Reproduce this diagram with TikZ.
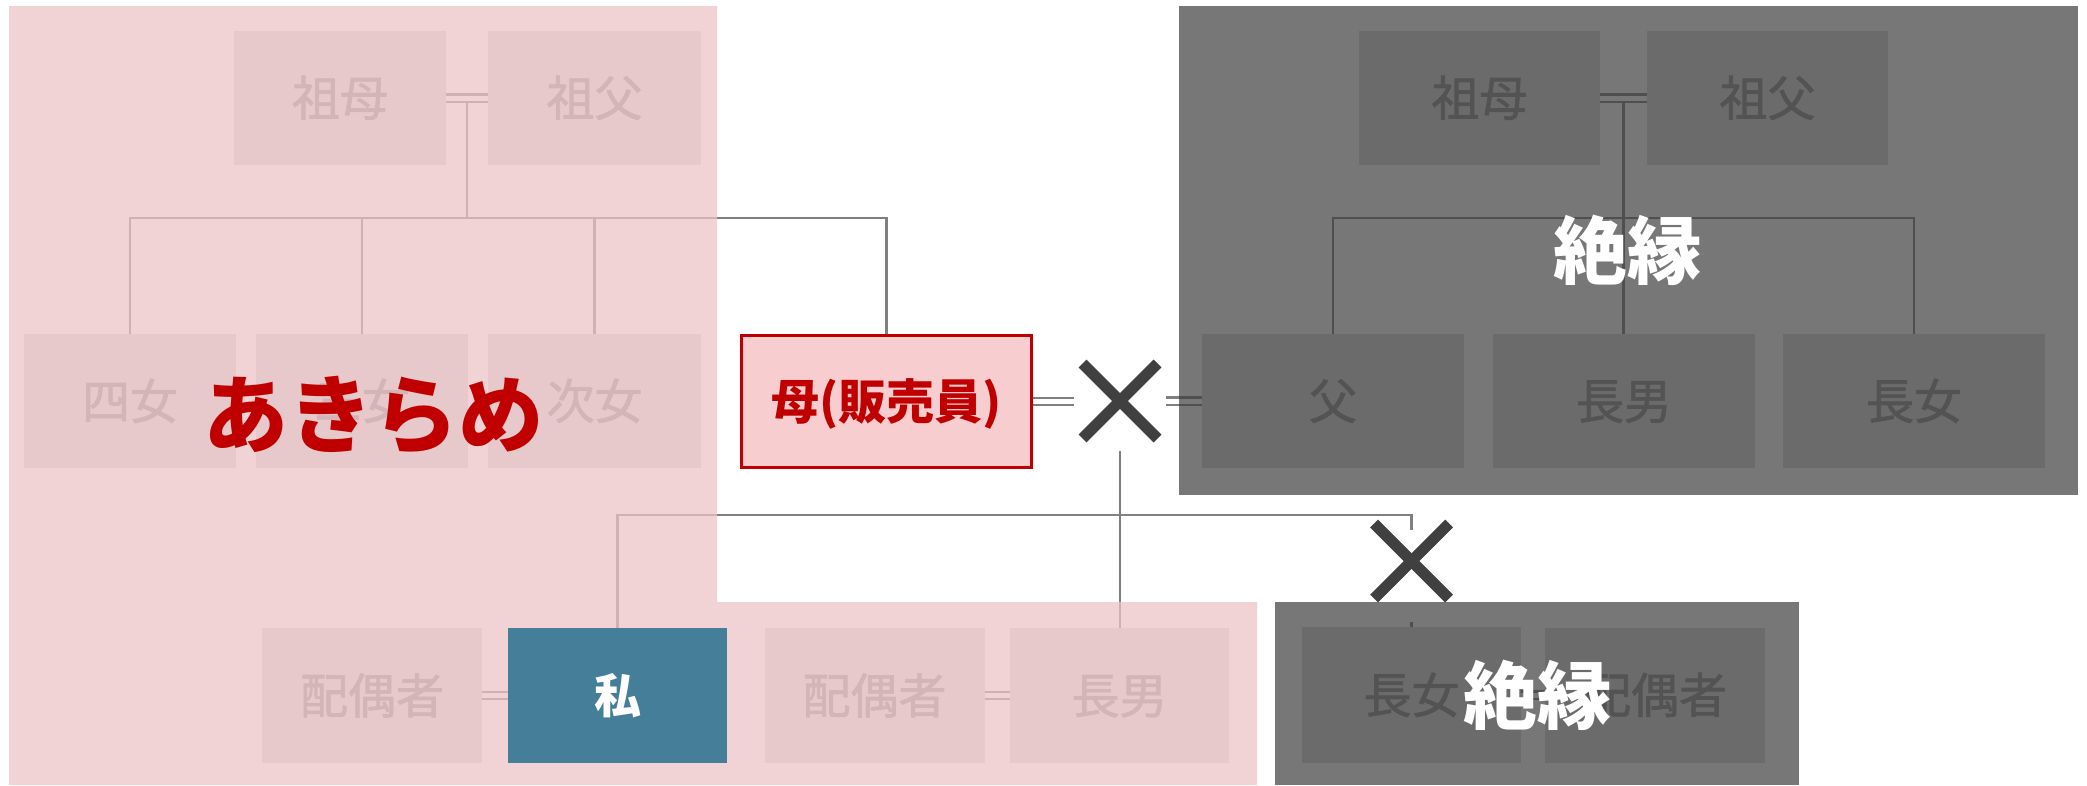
\documentclass[tikz,border=0pt]{standalone}
\usepackage{fontspec}
\newfontfamily\jp{Noto Sans CJK JP}
\newfontfamily\jpm{Noto Sans CJK JP}[FakeBold=1.5]
\definecolor{pinkov}{RGB}{237,195,199}
\definecolor{grayov}{RGB}{58,58,58}
\definecolor{boxbase}{RGB}{217,217,217}
\definecolor{txtbase}{RGB}{140,140,140}
\definecolor{linebase}{RGB}{128,128,128}
\definecolor{meblue}{RGB}{69,126,152}
\definecolor{momfill}{RGB}{247,205,208}
\definecolor{darkred}{RGB}{192,0,0}
\definecolor{xgray}{RGB}{64,64,64}
\begin{document}
\begin{tikzpicture}[x=1pt,y=-1pt,
  fam/.style={rectangle, inner sep=0pt, fill=boxbase, text=txtbase,
    font=\jpm\fontsize{48}{56}\selectfont, text height=38pt, text depth=2pt,
    minimum height=134pt},
  lowfam/.style={fam, minimum width=220pt, minimum height=135pt},
  mombox/.style={rectangle, inner sep=0pt, draw=darkred, line width=3pt, fill=momfill,
    text=darkred, font=\jp\bfseries\fontsize{48}{56}\selectfont,
    text height=38pt, text depth=2pt, minimum width=290pt, minimum height=132pt},
  mebox/.style={rectangle, inner sep=0pt, fill=meblue, text=white,
    font=\jp\bfseries\fontsize{47}{56}\selectfont, text height=37pt, text depth=2pt,
    minimum width=219pt, minimum height=135pt},
  conn/.style={draw=linebase, line width=2.5pt},
  marr/.style={draw=linebase, line width=2.2pt, double=white, double distance=5pt},
  xbox/.style={rectangle, fill=white, inner sep=0pt, minimum width=92pt, minimum height=92pt},
  xstroke/.style={draw=xgray, line width=11pt},
  giveup/.style={inner sep=0pt, text=darkred, font=\jp\bfseries\fontsize{85}{96}\selectfont,
    text height=68pt, text depth=3pt},
  cutlabel/.style={inner sep=0pt, text=white, font=\jp\bfseries\fontsize{74}{84}\selectfont,
    text height=59pt, text depth=3pt}
]
\useasboundingbox (0,0) rectangle (2087,785);
\fill[white] (0,0) rectangle (2087,785);

% ---- left family (mother's side)
\node[fam, minimum width=212pt] (gmL) at (340,98) {祖母};
\node[fam, minimum width=213pt] (gfL) at (594.5,98) {祖父};
\node[fam, minimum width=212pt] (d4) at (130,401) {四女};
\node[fam, minimum width=212pt] (d3) at (362,401) {三女};
\node[fam, minimum width=213pt] (d2) at (594.5,401) {次女};
\node[mombox] (mom) at (886.5,401.5) {母(販売員)};

% ---- right family (father's side)
\node[fam, minimum width=241pt] (gmR) at (1479.5,98) {祖母};
\node[fam, minimum width=241pt] (gfR) at (1767.5,98) {祖父};
\node[fam, minimum width=262pt] (fa) at (1333,401) {父};
\node[fam, minimum width=262pt] (sonR) at (1624,401) {長男};
\node[fam, minimum width=262pt] (daR) at (1914,401) {長女};

% ---- bottom row
\node[lowfam] (sp1) at (372,695.5) {配偶者};
\node[rectangle, inner sep=0pt, minimum width=219pt, minimum height=135pt] (me) at (617.5,695.5) {};
\node[lowfam] (sp2) at (874.5,695.5) {配偶者};
\node[lowfam, minimum width=219pt] (son) at (1119.5,695.5) {長男};
\node[lowfam, minimum width=219pt, minimum height=136pt] (dau) at (1411.5,695) {長女};
\node[lowfam] (sp3) at (1655,695) {配偶者};

% ---- connectors
\draw[marr] (gmL.east) -- (gfL.west);
\coordinate (jL) at (467,101);
\coordinate (hL) at (467,218);
\draw[conn] (jL) -- (hL);
\draw[conn] (d4.north) |- (hL) -| (mom.north);
\draw[conn] (d3.north) -- (d3.north |- hL);
\draw[conn] (d2.north) -- (d2.north |- hL);

\draw[marr] (gmR.east) -- (gfR.west);
\coordinate (jR) at (1623.5,101);
\coordinate (hR) at (1623.5,218);
\draw[conn] (jR) -- (jR |- sonR.north);
\draw[conn] (fa.north) |- (hR) -| (daR.north);

\node[xbox] (X1) at (1120,405) {};
\draw[marr] (mom.east) -- (mom.east -| X1.west);
\draw[marr] (X1.east |- fa.west) -- (fa.west);
\draw[conn] (X1.south) -- (X1.south |- son.north);

\coordinate (cB) at (1411.5,515);
\draw[conn] (me.north) |- (cB) -- (dau.north);
\node[xbox] (X2) at (1411.5,576) {};

\draw[marr] (sp1.east) -- (me.west);
\draw[marr] (sp2.east) -- (son.west);
\draw[marr] (dau.east) -- (sp3.west);

% ---- overlays
\fill[pinkov, fill opacity=0.732] (9,6) -- (717,6) -- (717,602) -- (1257,602) -- (1257,785) -- (9,785) -- cycle;
\fill[grayov, fill opacity=0.685] (1179,6) rectangle (2078,495);
\fill[grayov, fill opacity=0.685] (1275,602) rectangle (1799,785);

% ---- top layer
\node[mebox] (me2) at (me.center) {私};

\coordinate (x1c) at (1120,401);
\coordinate (x2c) at (1411.5,561);
\draw[xstroke] ([shift={(-37.5,-37.5)}]x1c) -- ([shift={(37.5,37.5)}]x1c);
\draw[xstroke] ([shift={(-37.5,37.5)}]x1c) -- ([shift={(37.5,-37.5)}]x1c);
\draw[xstroke] ([shift={(-37.5,-37.5)}]x2c) -- ([shift={(37.5,37.5)}]x2c);
\draw[xstroke] ([shift={(-37.5,37.5)}]x2c) -- ([shift={(37.5,-37.5)}]x2c);

\node[giveup] (gu) at (373,414) {あきらめ};
\node[cutlabel] (cut1) at (1627,250) {絶縁};
\node[cutlabel] (cut2) at (1537,695) {絶縁};
\end{tikzpicture}
\end{document}
